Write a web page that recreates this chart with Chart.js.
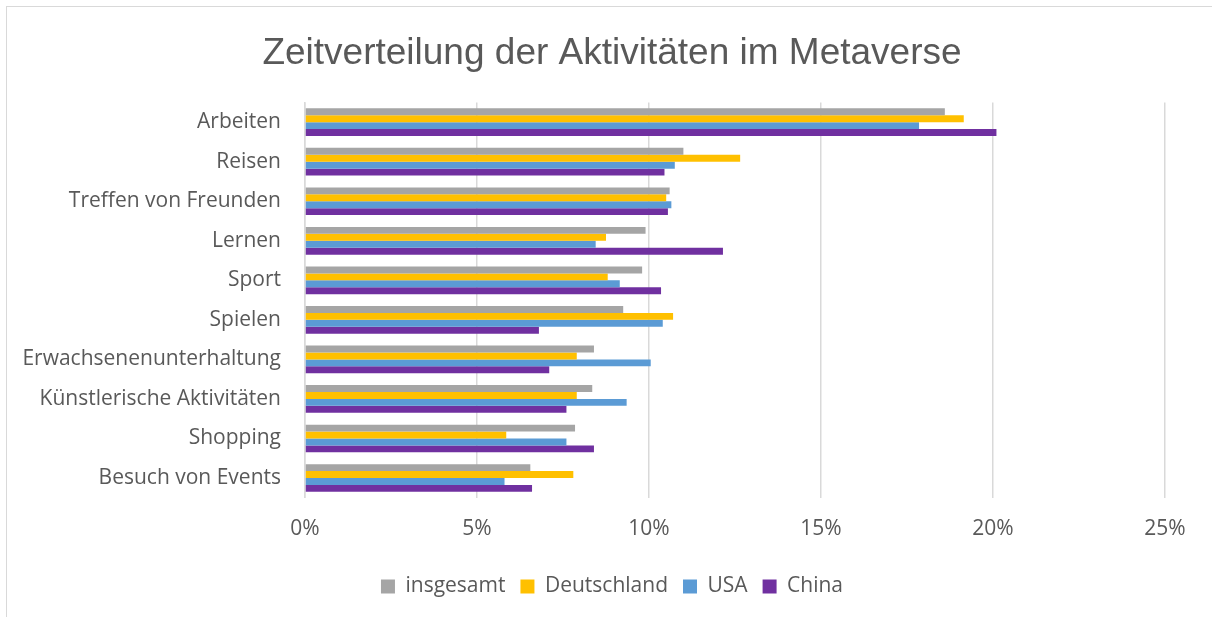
<!DOCTYPE html>
<html>
<head>
<meta charset="utf-8">
<script src="https://cdn.jsdelivr.net/npm/chart.js@4"></script>
<style>
    html, body { margin: 0; padding: 0; background: #fff; overflow: hidden; }
    #frame { position: absolute; left: 6px; top: 6px; width: 1300px; height: 700px; border: 1.5px solid #d9d9d9; }
    #wrap { position: absolute; left: 0; top: 0; width: 1212px; height: 617px; }
</style>
</head>
<body>
<div id="frame"></div>
<div id="wrap"><canvas id="chart" width="1212" height="617"></canvas></div>
<script>
// Categories top to bottom
const categories = [
    'Arbeiten', 'Reisen', 'Treffen von Freunden', 'Lernen', 'Sport',
    'Spielen', 'Erwachsenenunterhaltung', 'Künstlerische Aktivitäten', 'Shopping', 'Besuch von Events'
];

// Share of time in percent
const insgesamt   = [18.6, 11.0, 10.6, 9.9, 9.8, 9.25, 8.4, 8.35, 7.85, 6.55];
const deutschland = [19.15, 12.65, 10.5, 8.75, 8.8, 10.7, 7.9, 7.9, 5.85, 7.8];
const usa         = [17.85, 10.75, 10.65, 8.45, 9.15, 10.4, 10.05, 9.35, 7.6, 5.8];
const china       = [20.1, 10.45, 10.55, 12.15, 10.35, 6.8, 7.1, 7.6, 8.4, 6.6];

const seriesNames = ['insgesamt', 'Deutschland', 'USA', 'China'];
const seriesColors = ['#a5a5a5', '#ffc000', '#5b9bd5', '#7030a0'];

const xTicks = [0, 5, 10, 15, 20, 25];

const textColor = '#595959';
const labelFont = { family: "'Open Sans', sans-serif", size: 21 };

const datasets = [insgesamt, deutschland, usa, china].map((vals, i) => ({
    label: seriesNames[i],
    data: vals,
    backgroundColor: seriesColors[i],
    borderWidth: 0,
    categoryPercentage: 0.7,
    barPercentage: 1.0
}));

new Chart(document.getElementById('chart').getContext('2d'), {
    type: 'bar',
    data: { labels: categories, datasets },
    options: {
        indexAxis: 'y',
        responsive: false,
        animation: false,
        layout: { padding: { left: 12, right: 0, top: 0, bottom: 10 } },
        plugins: {
            title: {
                display: true,
                text: 'Zeitverteilung der Aktivitäten im Metaverse',
                color: textColor,
                font: { family: "'Liberation Sans', Arial, sans-serif", size: 37, weight: 'normal' },
                padding: { top: 32, bottom: 26 }
            },
            legend: {
                position: 'bottom',
                labels: {
                    color: textColor,
                    font: labelFont,
                    boxWidth: 14,
                    boxHeight: 14,
                    padding: 15
                }
            },
            tooltip: { enabled: false }
        },
        scales: {
            x: {
                min: xTicks[0],
                max: xTicks[xTicks.length - 1],
                afterBuildTicks: scale => { scale.ticks = xTicks.map(v => ({ value: v })); },
                ticks: {
                    color: textColor,
                    font: labelFont,
                    padding: 19,
                    callback: v => v + '%'
                },
                grid: { color: '#d9d9d9', lineWidth: 1.5, drawTicks: false },
                border: { display: false }
            },
            y: {
                afterFit: scale => { scale.width = 293; },
                ticks: { color: textColor, font: labelFont, padding: 24 },
                grid: { display: false, drawTicks: false },
                border: { display: true, color: '#d9d9d9', width: 1.5 }
            },
            // empty right-hand axis, only reserves the space right of the plot
            y2: {
                type: 'category',
                position: 'right',
                afterFit: scale => { scale.width = 47; },
                ticks: { display: false },
                grid: { display: false, drawTicks: false },
                border: { display: false }
            }
        }
    }
});
</script>
</body>
</html>
